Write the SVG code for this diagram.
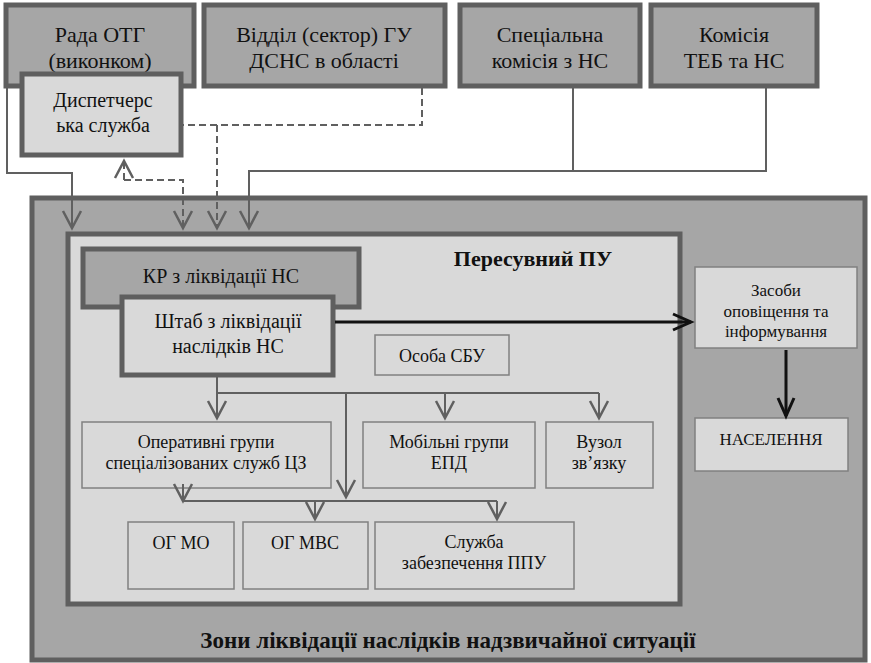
<svg xmlns="http://www.w3.org/2000/svg" width="871" height="663" viewBox="0 0 871 663">
<defs>
<marker id="ag" markerUnits="userSpaceOnUse" markerWidth="24" markerHeight="24" refX="19" refY="10" orient="auto" overflow="visible">
<path d="M2,1 L19,10 L2,19" fill="none" stroke="#606060" stroke-width="2.5"/>
</marker>
<marker id="ab" markerUnits="userSpaceOnUse" markerWidth="24" markerHeight="24" refX="19" refY="10" orient="auto" overflow="visible">
<path d="M1,2 L19,10 L1,18" fill="none" stroke="#111" stroke-width="3"/>
</marker>
</defs>
<rect x="0" y="0" width="871" height="663" fill="#ffffff"/>

<g id="zone">
<rect x="32" y="198" width="833" height="462" fill="#a6a6a6" stroke="#5f5f5f" stroke-width="5"/>
<text x="448" y="648" font-size="23" font-weight="bold" font-family="Times New Roman" fill="#111" text-anchor="middle">Зони ліквідації наслідків надзвичайної ситуації</text>
</g>
<g id="ppu">
<rect x="68" y="234" width="612" height="370" fill="#d9d9d9" stroke="#5f5f5f" stroke-width="5"/>
<text x="533" y="266" font-size="22" font-weight="bold" font-family="Times New Roman" fill="#111" text-anchor="middle">Пересувний ПУ</text>
</g>

<g id="rada">
<rect x="6" y="5" width="188" height="81" fill="#a6a6a6" stroke="#5f5f5f" stroke-width="5"/>
<text x="100" y="42" font-size="22" font-family="Times New Roman" fill="#111" text-anchor="middle">Рада ОТГ</text>
<text x="100" y="68" font-size="22" font-family="Times New Roman" fill="#111" text-anchor="middle">(виконком)</text>
</g>
<g id="viddil">
<rect x="204" y="5" width="241" height="81" fill="#a6a6a6" stroke="#5f5f5f" stroke-width="5"/>
<text x="324" y="42" font-size="22" font-family="Times New Roman" fill="#111" text-anchor="middle">Відділ (сектор) ГУ</text>
<text x="324" y="68" font-size="22" font-family="Times New Roman" fill="#111" text-anchor="middle">ДСНС в області</text>
</g>
<g id="spec">
<rect x="460" y="5" width="180" height="81" fill="#a6a6a6" stroke="#5f5f5f" stroke-width="5"/>
<text x="550" y="42" font-size="22" font-family="Times New Roman" fill="#111" text-anchor="middle">Спеціальна</text>
<text x="550" y="68" font-size="22" font-family="Times New Roman" fill="#111" text-anchor="middle">комісія з НС</text>
</g>
<g id="komisia">
<rect x="651" y="5" width="166" height="81" fill="#a6a6a6" stroke="#5f5f5f" stroke-width="5"/>
<text x="734" y="42" font-size="22" font-family="Times New Roman" fill="#111" text-anchor="middle">Комісія</text>
<text x="734" y="68" font-size="22" font-family="Times New Roman" fill="#111" text-anchor="middle">ТЕБ та НС</text>
</g>
<g id="dyspetch">
<rect x="22" y="74" width="159" height="81" fill="#d9d9d9" stroke="#5f5f5f" stroke-width="5"/>
<text x="103" y="107" font-size="20" font-family="Times New Roman" fill="#111" text-anchor="middle">Диспетчерс</text>
<text x="103" y="132" font-size="20" font-family="Times New Roman" fill="#111" text-anchor="middle">ька служба</text>
</g>

<g id="kr">
<rect x="83" y="249" width="276" height="58" fill="#a6a6a6" stroke="#5f5f5f" stroke-width="5"/>
<text x="221" y="283" font-size="20" font-family="Times New Roman" fill="#111" text-anchor="middle">КР з ліквідації НС</text>
</g>
<g id="shtab">
<rect x="122" y="297" width="211" height="78" fill="#d9d9d9" stroke="#5f5f5f" stroke-width="5"/>
<text x="228" y="328" font-size="20" font-family="Times New Roman" fill="#111" text-anchor="middle">Штаб з ліквідації</text>
<text x="228" y="353" font-size="20" font-family="Times New Roman" fill="#111" text-anchor="middle">наслідків НС</text>
</g>
<g id="osoba">
<rect x="375" y="335" width="134" height="40" fill="#d9d9d9" stroke="#808080" stroke-width="1.5"/>
<text x="442" y="362" font-size="18" font-family="Times New Roman" fill="#111" text-anchor="middle">Особа СБУ</text>
</g>
<g id="operatyvni">
<rect x="82" y="422" width="249" height="66" fill="#d9d9d9" stroke="#808080" stroke-width="1.5"/>
<text x="206" y="448" font-size="18" font-family="Times New Roman" fill="#111" text-anchor="middle">Оперативні групи</text>
<text x="206" y="469" font-size="18" font-family="Times New Roman" fill="#111" text-anchor="middle">спеціалізованих служб ЦЗ</text>
</g>
<g id="mobilni">
<rect x="363" y="422" width="172" height="66" fill="#d9d9d9" stroke="#808080" stroke-width="1.5"/>
<text x="449" y="448" font-size="18" font-family="Times New Roman" fill="#111" text-anchor="middle">Мобільні групи</text>
<text x="449" y="469" font-size="18" font-family="Times New Roman" fill="#111" text-anchor="middle">ЕПД</text>
</g>
<g id="vuzol">
<rect x="546" y="422" width="107" height="66" fill="#d9d9d9" stroke="#808080" stroke-width="1.5"/>
<text x="599" y="448" font-size="18" font-family="Times New Roman" fill="#111" text-anchor="middle">Вузол</text>
<text x="599" y="469" font-size="18" font-family="Times New Roman" fill="#111" text-anchor="middle">зв’язку</text>
</g>
<g id="ogmo">
<rect x="128" y="522" width="106" height="67" fill="#d9d9d9" stroke="#808080" stroke-width="1.5"/>
<text x="181" y="549" font-size="18" font-family="Times New Roman" fill="#111" text-anchor="middle">ОГ МО</text>
</g>
<g id="ogmvs">
<rect x="243" y="522" width="125" height="67" fill="#d9d9d9" stroke="#808080" stroke-width="1.5"/>
<text x="305" y="549" font-size="18" font-family="Times New Roman" fill="#111" text-anchor="middle">ОГ МВС</text>
</g>
<g id="sluzhba">
<rect x="375" y="522" width="199" height="67" fill="#d9d9d9" stroke="#808080" stroke-width="1.5"/>
<text x="474" y="548" font-size="18" font-family="Times New Roman" fill="#111" text-anchor="middle">Служба</text>
<text x="474" y="569" font-size="18" font-family="Times New Roman" fill="#111" text-anchor="middle">забезпечення ППУ</text>
</g>
<g id="zasoby">
<rect x="695" y="267" width="162" height="81" fill="#d9d9d9" stroke="#808080" stroke-width="1.5"/>
<text x="776" y="296" font-size="17" font-family="Times New Roman" fill="#111" text-anchor="middle">Засоби</text>
<text x="776" y="317" font-size="17" font-family="Times New Roman" fill="#111" text-anchor="middle">оповіщення та</text>
<text x="776" y="337" font-size="17" font-family="Times New Roman" fill="#111" text-anchor="middle">інформування</text>
</g>
<g id="naselennia">
<rect x="695" y="418" width="153" height="53" fill="#d9d9d9" stroke="#808080" stroke-width="1.5"/>
<text x="771" y="445" font-size="17" font-family="Times New Roman" fill="#111" text-anchor="middle">НАСЕЛЕННЯ</text>
</g>

<g id="connectors" fill="none" stroke="#606060" stroke-width="2">
<path d="M7,88 L7,173 L72,173 L72,228" marker-end="url(#ag)"/>
<path d="M422,88 L422,125 L183,125" stroke-dasharray="7,4"/>
<path d="M217,125 L217,228" stroke-dasharray="7,4" marker-end="url(#ag)"/>
<path d="M124,180 L183,180 L183,228" stroke-dasharray="7,4" marker-end="url(#ag)"/>
<path d="M124,180 L124,161" stroke-dasharray="7,4" marker-end="url(#ag)"/>
<path d="M573,88 L573,171 L249,171 L249,228" marker-end="url(#ag)"/>
<path d="M766,88 L766,171 L573,171"/>
<path d="M335,322 L691,322" stroke="#111" stroke-width="3" marker-end="url(#ab)"/>
<path d="M786,350 L786,416" stroke="#111" stroke-width="3" marker-end="url(#ab)"/>
<path d="M217,377 L217,418" marker-end="url(#ag)"/>
<path d="M217,393 L599,393"/>
<path d="M445,393 L445,418" marker-end="url(#ag)"/>
<path d="M599,393 L599,418" marker-end="url(#ag)"/>
<path d="M346,393 L346,497" marker-end="url(#ag)"/>
<path d="M183,484 L183,501" marker-end="url(#ag)"/>
<path d="M183,501 L497,501"/>
<path d="M315,501 L315,519" marker-end="url(#ag)"/>
<path d="M497,501 L497,519" marker-end="url(#ag)"/>
</g>
</svg>
